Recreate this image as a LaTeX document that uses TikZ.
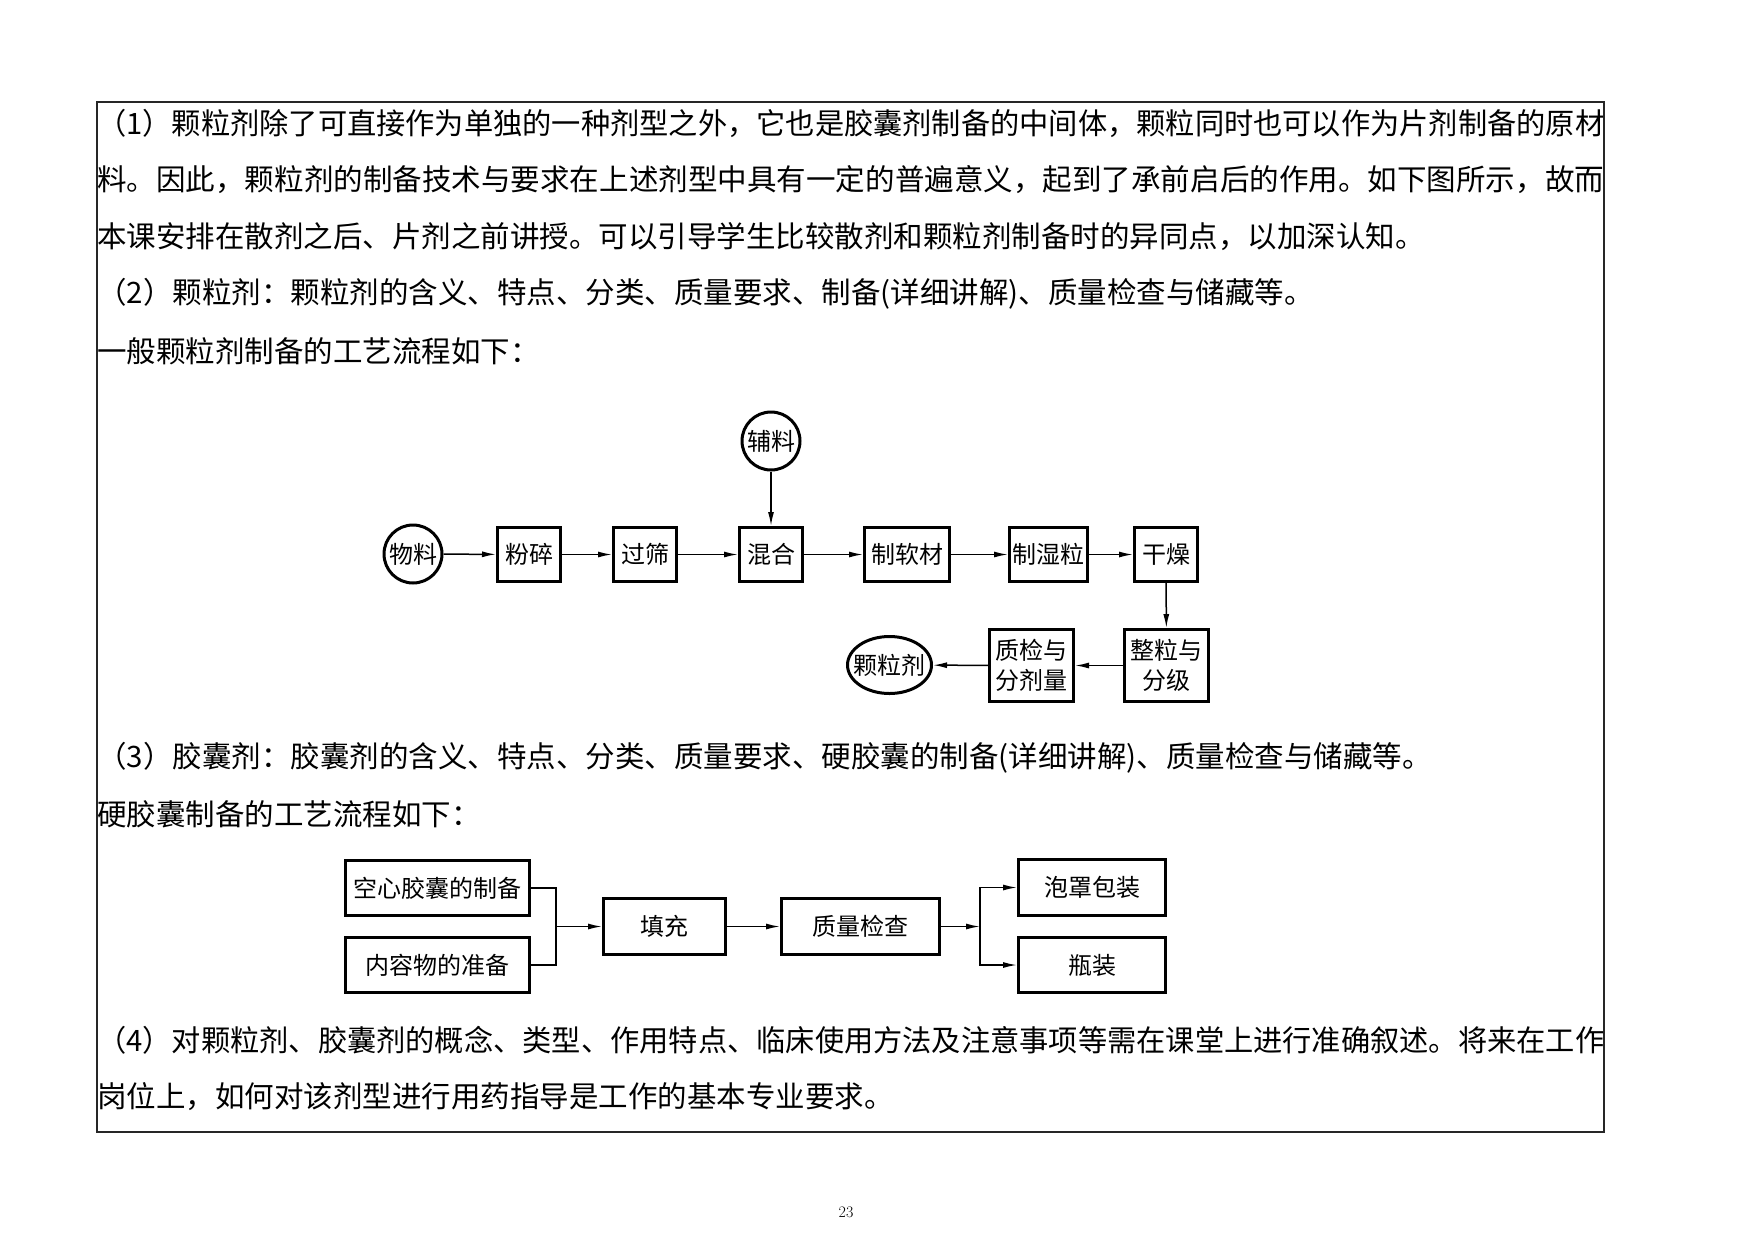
\documentclass[tikz,border=0pt]{standalone}
\usepackage{fontspec}
\usepackage{graphicx}
\newfontfamily\cjk{Noto Sans CJK SC}
\usetikzlibrary{arrows.meta,shapes.geometric}
\begin{document}
\begin{tikzpicture}[x=1pt,y=-1pt,
  body/.style={anchor=west,inner sep=0pt,font=\cjk\fontsize{29.5}{30}\selectfont},
  pbox/.style={draw,line width=3pt,inner sep=0pt,align=center,font=\cjk\fontsize{24}{30}\selectfont},
  qbox/.style={draw,line width=3pt,inner sep=0pt,align=center,font=\cjk\fontsize{24}{29}\selectfont},
  pcirc/.style={draw,circle,line width=3pt,inner sep=0pt,minimum size=58pt,font=\cjk\fontsize{24}{29}\selectfont},
  arr/.style={line width=1.5pt,-{Latex[length=14pt,width=6pt]}},
  ln/.style={line width=1.5pt}]
\useasboundingbox (0,0) rectangle (1754,1240);
\fill[white] (0,0) rectangle (1754,1240);
% frame
\draw[line width=1.5pt,black!85] (97,102) rectangle (1604,1132);
% body text
\node[body] (t1) at (97,123) {\resizebox{1507pt}{\height}{（1）颗粒剂除了可直接作为单独的一种剂型之外，它也是胶囊剂制备的中间体，颗粒同时也可以作为片剂制备的原材}};
\node[body] (t2) at (97,180) {\resizebox{1507pt}{\height}{料。因此，颗粒剂的制备技术与要求在上述剂型中具有一定的普遍意义，起到了承前启后的作用。如下图所示，故而}};
\node[body] (t3) at (97,237) {本课安排在散剂之后、片剂之前讲授。可以引导学生比较散剂和颗粒剂制备时的异同点，以加深认知。};
\node[body] (t4) at (97,294) {（2）颗粒剂：颗粒剂的含义、特点、分类、质量要求、制备(详细讲解)、质量检查与储藏等。};
\node[body] (t5) at (97,351) {一般颗粒剂制备的工艺流程如下：};
\node[body] (t6) at (97,758) {（3）胶囊剂：胶囊剂的含义、特点、分类、质量要求、硬胶囊的制备(详细讲解)、质量检查与储藏等。};
\node[body] (t7) at (97,814) {硬胶囊制备的工艺流程如下：};
\node[body] (t8) at (97,1040) {\resizebox{1507pt}{\height}{（4）对颗粒剂、胶囊剂的概念、类型、作用特点、临床使用方法及注意事项等需在课堂上进行准确叙述。将来在工作}};
\node[body] (t9) at (97,1097) {岗位上，如何对该剂型进行用药指导是工作的基本专业要求。};
% diagram 1
\node[pcirc] (wuliao) at (413,554) {物料};
\node[pcirc] (fuliao) at (771,441) {辅料};
\node[pbox,minimum width=63pt,minimum height=54pt] (fensui) at (529,554.5) {粉碎};
\node[pbox,minimum width=63pt,minimum height=54pt] (guoshai) at (645,554.5) {过筛};
\node[pbox,minimum width=63pt,minimum height=54pt] (hunhe) at (771,554.5) {混合};
\node[pbox,minimum width=85pt,minimum height=54pt] (ruancai) at (907,554.5) {制软材};
\node[pbox,minimum width=78pt,minimum height=54pt] (shili) at (1048.5,554.5) {制湿粒};
\node[pbox,minimum width=63pt,minimum height=54pt] (ganzao) at (1166,554.5) {干燥};
\node[pbox,minimum width=84pt,minimum height=72pt] (zhengli) at (1166.5,665.5) {整粒与\\分级};
\node[pbox,minimum width=84pt,minimum height=72pt] (zhijian) at (1031.5,665.5) {质检与\\分剂量};
\node[pbox,ellipse,inner xsep=-8pt,inner ysep=0pt,minimum width=84pt,minimum height=57pt] (keliji) at (889.5,665) {颗粒剂};
\draw[arr] (wuliao) -- (fensui);
\draw[arr] (fensui) -- (guoshai);
\draw[arr] (guoshai) -- (hunhe);
\draw[arr] (fuliao) -- (hunhe);
\draw[arr] (hunhe) -- (ruancai);
\draw[arr] (ruancai) -- (shili);
\draw[arr] (shili) -- (ganzao);
\draw[arr] (ganzao) -- (zhengli);
\draw[arr] (zhengli) -- (zhijian);
\draw[arr] (zhijian) -- (keliji);
% diagram 2
\node[qbox,minimum width=184pt,minimum height=55pt] (kongxin) at (437.5,888) {空心胶囊的制备};
\node[qbox,minimum width=184pt,minimum height=55pt] (neirong) at (437.5,965) {内容物的准备};
\node[qbox,minimum width=122pt,minimum height=56pt] (tianchong) at (664.5,926.5) {填充};
\node[qbox,minimum width=158pt,minimum height=56pt] (zhiliang) at (860.5,926.5) {质量检查};
\node[qbox,minimum width=147pt,minimum height=56pt] (paozhao) at (1092,887.5) {泡罩包装};
\node[qbox,minimum width=147pt,minimum height=55pt] (ping) at (1092,965) {瓶装};
\coordinate (j1) at (556,926.5);
\coordinate (j2) at (980,926.5);
\draw[ln] (kongxin.east) -| (j1);
\draw[ln] (neirong.east) -| (j1);
\draw[arr] (j1) -- (tianchong.west);
\draw[arr] (tianchong) -- (zhiliang);
\draw[arr] (zhiliang.east) -- (j2);
\draw[arr] (j2) |- (paozhao.west);
\draw[arr] (j2) |- (ping.west);
% page number
\node[font=\fontsize{16}{16}\selectfont] (pg) at (846,1212) {23};
\end{tikzpicture}
\end{document}
